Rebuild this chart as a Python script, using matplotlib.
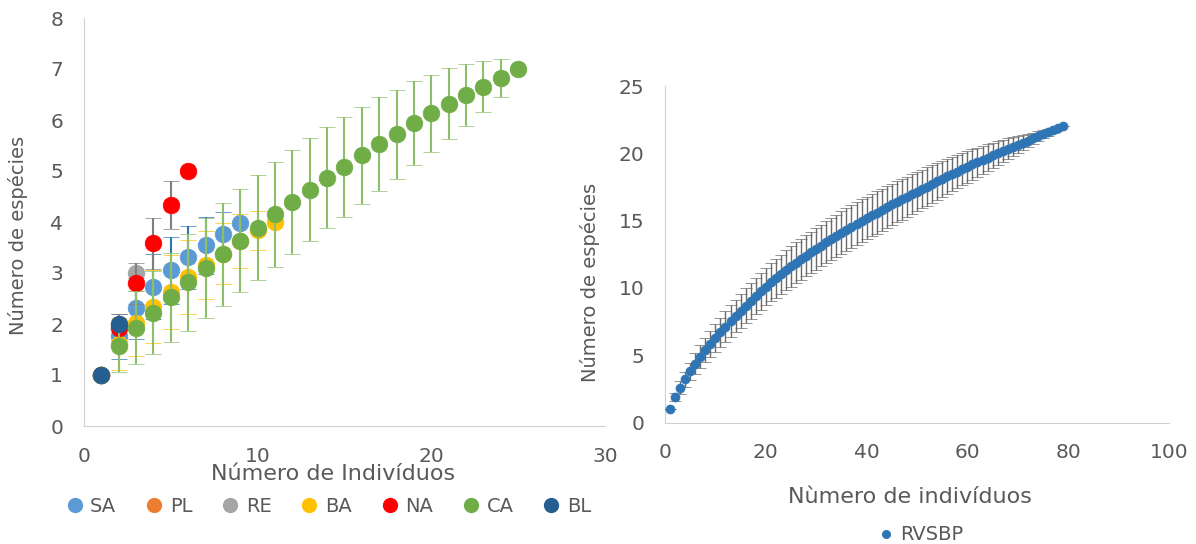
import matplotlib
matplotlib.use("Agg")
import matplotlib.pyplot as plt
from matplotlib.lines import Line2D

plt.rcParams['font.family'] = ['DejaVu Sans']

# left chart: rarefaction per site (mean, sd)
names = ['SA', 'PL', 'RE', 'BA', 'NA', 'CA', 'BL']
colors = ['#5B9BD5', '#ED7D31', '#A5A5A5', '#FFC000', '#FF0000', '#70AD47', '#255E91']
err_colors = ['#2E75B6', '#ED7D31', '#7F7F7F', '#FFC000', '#7F7F7F', '#8CBF6A', '#7F7F7F']

sa_y = [1, 1.76, 2.31, 2.73, 3.05, 3.31, 3.54, 3.77, 3.99]
sa_sd = [0, 0.44, 0.6, 0.64, 0.65, 0.62, 0.55, 0.43, 0]
pl_y = [1]
pl_sd = [0]
re_y = [1, 2.0, 3.0]
re_sd = [0, 0, 0]
ba_y = [1, 1.61, 2.01, 2.34, 2.63, 2.92, 3.16, 3.38, 3.62, 3.84, 4.0]
ba_sd = [0, 0.51, 0.64, 0.72, 0.72, 0.72, 0.67, 0.6, 0.53, 0.38, 0]
na_y = [1, 1.93, 2.8, 3.58, 4.34, 5.0]
na_sd = [0, 0.26, 0.4, 0.5, 0.47, 0]
ca_y = [1, 1.56, 1.93, 2.22, 2.52, 2.82, 3.09, 3.37, 3.63, 3.89, 4.15, 4.40, 4.63,
        4.87, 5.08, 5.31, 5.53, 5.72, 5.94, 6.13, 6.32, 6.49, 6.65, 6.83, 7.0]
ca_sd = [0, 0.51, 0.71, 0.81, 0.88, 0.95, 0.98, 1.01, 1.01, 1.03, 1.03, 1.02, 1.01,
         0.99, 0.98, 0.95, 0.92, 0.87, 0.82, 0.75, 0.70, 0.61, 0.5, 0.37, 0]
bl_y = [1, 2.0]
bl_sd = [0, 0]

left_y = [sa_y, pl_y, re_y, ba_y, na_y, ca_y, bl_y]
left_sd = [sa_sd, pl_sd, re_sd, ba_sd, na_sd, ca_sd, bl_sd]

# right chart: RVSBP rarefaction (1..79 individuals)
rv_y = [1.00, 1.87, 2.60, 3.20, 3.80, 4.38, 4.90, 5.40, 5.86, 6.30,
        6.71, 7.12, 7.52, 7.91, 8.30, 8.67, 9.04, 9.40, 9.75, 10.10,
        10.41, 10.72, 11.02, 11.31, 11.60, 11.87, 12.13, 12.39, 12.65, 12.90,
        13.15, 13.39, 13.63, 13.87, 14.10, 14.33, 14.55, 14.77, 14.99, 15.20,
        15.40, 15.60, 15.80, 16.00, 16.20, 16.39, 16.58, 16.77, 16.96, 17.15,
        17.34, 17.53, 17.72, 17.91, 18.10, 18.28, 18.46, 18.64, 18.82, 19.00,
        19.17, 19.34, 19.51, 19.68, 19.85, 20.01, 20.17, 20.33, 20.49, 20.65,
        20.80, 20.95, 21.10, 21.25, 21.40, 21.55, 21.70, 21.85, 22.00]
rv_sd = [0, 0.3, 0.45, 0.55, 0.65, 0.75, 0.83, 0.9, 0.97, 1.03,
         1.08, 1.13, 1.18, 1.22, 1.26, 1.29, 1.32, 1.35, 1.38, 1.40,
         1.42, 1.44, 1.46, 1.48, 1.50, 1.51, 1.52, 1.53, 1.54, 1.55,
         1.56, 1.56, 1.57, 1.57, 1.58, 1.58, 1.58, 1.58, 1.58, 1.58,
         1.57, 1.57, 1.56, 1.55, 1.54, 1.53, 1.52, 1.50, 1.48, 1.46,
         1.44, 1.42, 1.40, 1.37, 1.34, 1.31, 1.28, 1.25, 1.21, 1.17,
         1.13, 1.09, 1.04, 0.99, 0.94, 0.89, 0.83, 0.77, 0.71, 0.65,
         0.58, 0.51, 0.44, 0.37, 0.30, 0.23, 0.16, 0.08, 0]

grey = '#595959'
spine = '#D0D0D0'

fig = plt.figure(figsize=(11.96, 5.44), dpi=100)
ax1 = fig.add_axes([84/1196, 1 - 426/544, (605 - 84)/1196, (426 - 18)/544])
ax2 = fig.add_axes([665/1196, 1 - 422.5/544, (1169 - 665)/1196, (422.5 - 86)/544])

for i in range(len(names)):
    y = left_y[i]
    x = list(range(1, len(y) + 1))
    ax1.errorbar(x, y, yerr=left_sd[i], fmt='o', color=colors[i], ms=12,
                 mec=colors[i], mew=0.5,
                 ecolor=err_colors[i], elinewidth=1.5, capsize=6, capthick=1.5,
                 zorder=2 + i)

ax1.set_xlim(0, 30)
ax1.set_ylim(0, 8)
ax1.set_xticks([0, 10, 20, 30])
ax1.set_yticks(range(0, 9))
ax1.set_xlabel('Número de Indivíduos', fontsize=16, color=grey)
ax1.set_ylabel('Número de espécies', fontsize=14, color=grey)
ax1.xaxis.set_label_coords(333/521 - 84/521, -0.093)
ax1.yaxis.set_label_coords(-0.107, 0.468)

rx = list(range(1, len(rv_y) + 1))
ax2.errorbar(rx, rv_y, yerr=rv_sd, fmt='o', color='#2E75B6', ms=6.5,
             mec='#2E75B6', mew=0.5,
             ecolor='#6A6A6A', elinewidth=1, capsize=4, capthick=1,
             zorder=3)
ax2.set_xlim(0, 100)
ax2.set_ylim(0, 25)
ax2.set_xticks(range(0, 101, 20))
ax2.set_yticks(range(0, 26, 5))
ax2.set_xlabel('Nùmero de indivíduos', fontsize=16, color=grey)
ax2.set_ylabel('Número de espécies', fontsize=14, color=grey)
ax2.xaxis.set_label_coords((910 - 665)/504, -0.192)
ax2.yaxis.set_label_coords(-0.129, 0.415)

for ax in (ax1, ax2):
    ax.spines['top'].set_visible(False)
    ax.spines['right'].set_visible(False)
    ax.spines['left'].set_color(spine)
    ax.spines['bottom'].set_color(spine)
    ax.tick_params(length=0, labelsize=14.5, colors=grey, pad=15)
    ax.patch.set_alpha(0)

handles = [Line2D([], [], ls='', marker='o', ms=11, color=c, markeredgewidth=0) for c in colors]
fig.legend(handles, names, loc='center', bbox_to_anchor=(328/1196, 1 - 506/544),
           ncol=7, frameon=False, fontsize=14, handletextpad=0.3, columnspacing=1.45,
           handlelength=1.0, labelcolor=grey)

h2 = [Line2D([], [], ls='', marker='o', ms=6.5, color='#2E75B6', markeredgewidth=0)]
fig.legend(h2, ['RVSBP'], loc='center', bbox_to_anchor=(920/1196, 1 - 535/544),
           frameon=False, fontsize=14, handletextpad=0.2, handlelength=1.0, labelcolor=grey)

fig.savefig('out.png', dpi=100)
